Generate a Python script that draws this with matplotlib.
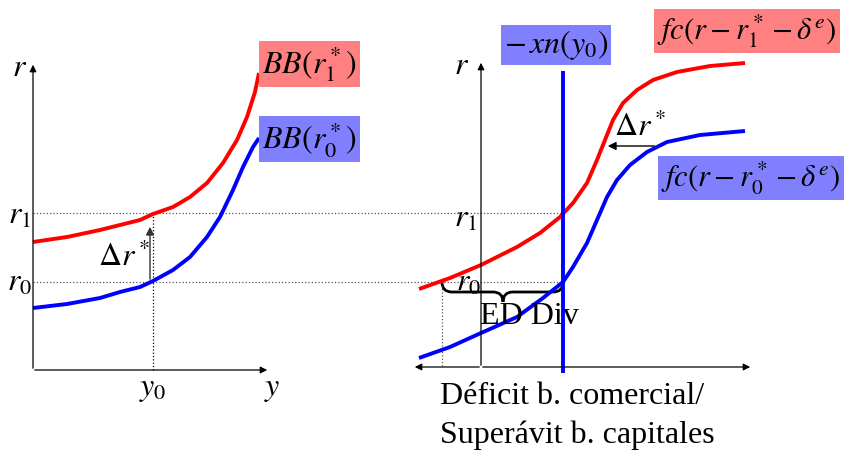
import numpy as np
import matplotlib.pyplot as plt
from matplotlib.path import Path
from matplotlib.patches import PathPatch

plt.rcParams['mathtext.fontset'] = 'stix'
plt.rcParams['font.family'] = ['Liberation Serif', 'DejaVu Serif']

# curves (pixel coords, y downwards)
bb1_x = [33, 67, 100, 120, 140, 153, 173, 190, 207, 223, 237, 247, 255, 259]
bb1_y = [242, 237, 230, 225, 220, 214, 207, 197, 183, 163, 140, 117, 92, 73]
bb0_x = [33, 67, 100, 120, 140, 153, 173, 190, 207, 220, 233, 243, 253, 259]
bb0_y = [308, 304, 298, 292, 287, 281, 270, 257, 237, 217, 190, 167, 147, 138]

fc1_x = [419, 450, 481, 517, 540, 560, 573, 587, 597, 605, 613, 623, 637,
         653, 677, 710, 745]
fc1_y = [289, 278, 265, 247, 233, 217, 203, 183, 160, 140, 120, 103, 90,
         80, 72, 66, 63]
fc0_x = [419, 450, 481, 517, 543, 563, 573, 587, 597, 607, 617, 630, 647,
         667, 700, 745]
fc0_y = [358, 347, 333, 317, 298, 282, 267, 243, 220, 197, 180, 165, 152,
         142, 135, 131]

r1_level = 213
r0_level = 282
y0_pos = 153
xn_pos = 563
ed_left = 442

RED = '#ff0000'
BLUE = '#0000ff'

fig = plt.figure(figsize=(8.46, 4.5), dpi=100)
ax = fig.add_axes([0, 0, 1, 1])
ax.set_xlim(0, 846)
ax.set_ylim(450, 0)
ax.axis('off')

arrow = dict(arrowstyle='-|>', color='black', lw=0.9, mutation_scale=10)

# left panel axes
ax.annotate('', xy=(33, 62), xytext=(33, 371), arrowprops=arrow)
ax.annotate('', xy=(270, 370), xytext=(32, 370), arrowprops=arrow)

# right panel axes
ax.annotate('', xy=(481, 60), xytext=(481, 368), arrowprops=arrow)
ax.annotate('', xy=(753, 367), xytext=(480, 367), arrowprops=arrow)
ax.annotate('', xy=(412, 367), xytext=(482, 367), arrowprops=arrow)

# dotted guides
ax.plot([33, xn_pos], [r1_level, r1_level], ls=':', color='#555555', lw=0.9)
ax.plot([33, xn_pos], [r0_level, r0_level], ls=':', color='#555555', lw=0.9)
ax.plot([y0_pos, y0_pos], [r1_level, 370], ls=':', color='black', lw=0.9)
ax.plot([ed_left, ed_left], [r0_level, 367], ls=':', color='#555555', lw=0.9)

# curves
style = dict(lw=2.8, solid_capstyle='butt', solid_joinstyle='round')
ax.plot(bb1_x, bb1_y, color=RED, **style)
ax.plot(bb0_x, bb0_y, color=BLUE, **style)
ax.plot(fc1_x, fc1_y, color=RED, **style)
ax.plot(fc0_x, fc0_y, color=BLUE, **style)
ax.plot([xn_pos, xn_pos], [71, 373], color=BLUE, **style)

# delta r* arrows
ax.annotate('', xy=(150, 224), xytext=(150, r0_level),
            arrowprops=dict(arrowstyle='-|>', color='#333333', lw=1.0, mutation_scale=12))
ax.annotate('', xy=(605, 146), xytext=(657, 146),
            arrowprops=dict(arrowstyle='-|>', color='black', lw=1.0, mutation_scale=12))

# brace under r0
verts = [(ed_left, r0_level), (ed_left, 292), (452, 292),
         (493, 292), (503, 292), (503, 302),
         (503, 302), (503, 292), (513, 292),
         (553, 292), (xn_pos, 292), (xn_pos, r0_level)]
codes = [Path.MOVETO, Path.CURVE3, Path.CURVE3,
         Path.LINETO, Path.CURVE3, Path.CURVE3,
         Path.MOVETO, Path.CURVE3, Path.CURVE3,
         Path.LINETO, Path.CURVE3, Path.CURVE3]
ax.add_patch(PathPatch(Path(verts, codes), fill=False, lw=2, color='black'))

fs = 23
# left labels
ax.text(20, 68, '$r$', fontsize=fs, ha='center', va='center')
ax.text(20, 216, '$r_1$', fontsize=fs, ha='center', va='center')
ax.text(20, 283, '$r_0$', fontsize=fs, ha='center', va='center')
ax.text(153, 390, '$y_0$', fontsize=fs, ha='center', va='center')
ax.text(272, 390, '$y$', fontsize=fs, ha='center', va='center')
ax.text(124, 258, r'$\Delta r^*$', fontsize=fs, ha='center', va='center')

box_red = dict(boxstyle='square,pad=0.1', fc='#ff8080', ec='none')
box_blue = dict(boxstyle='square,pad=0.1', fc='#8080ff', ec='none')
ax.text(262, 64, '$BB(r_1^*)$', fontsize=fs, ha='left', va='center', bbox=box_red)
ax.text(262, 139, '$BB(r_0^*)$', fontsize=fs, ha='left', va='center', bbox=box_blue)

# right labels
ax.text(462, 66, '$r$', fontsize=fs, ha='center', va='center')
ax.text(466, 219, '$r_1$', fontsize=fs, ha='center', va='center')
ax.text(469, 283, '$r_0$', fontsize=fs, ha='center', va='center')
ax.text(640, 128, r'$\Delta r^*$', fontsize=fs, ha='center', va='center')
ax.text(556, 45, '$-\\,xn(y_0)$', fontsize=fs, ha='center', va='center', bbox=box_blue)
ax.text(747, 31, r'$fc(r - r_1^* - \delta^e)$', fontsize=22, ha='center', va='center', bbox=box_red)
ax.text(751, 178, r'$fc(r - r_0^* - \delta^e)$', fontsize=22, ha='center', va='center', bbox=box_blue)

ax.text(480, 317, 'ED Div', fontsize=fs, ha='left', va='center')
ax.text(440, 397, 'Déficit b. comercial/', fontsize=fs, ha='left', va='center')
ax.text(440, 435, 'Superávit b. capitales', fontsize=fs, ha='left', va='center')

fig.savefig('out.png', dpi=100)
